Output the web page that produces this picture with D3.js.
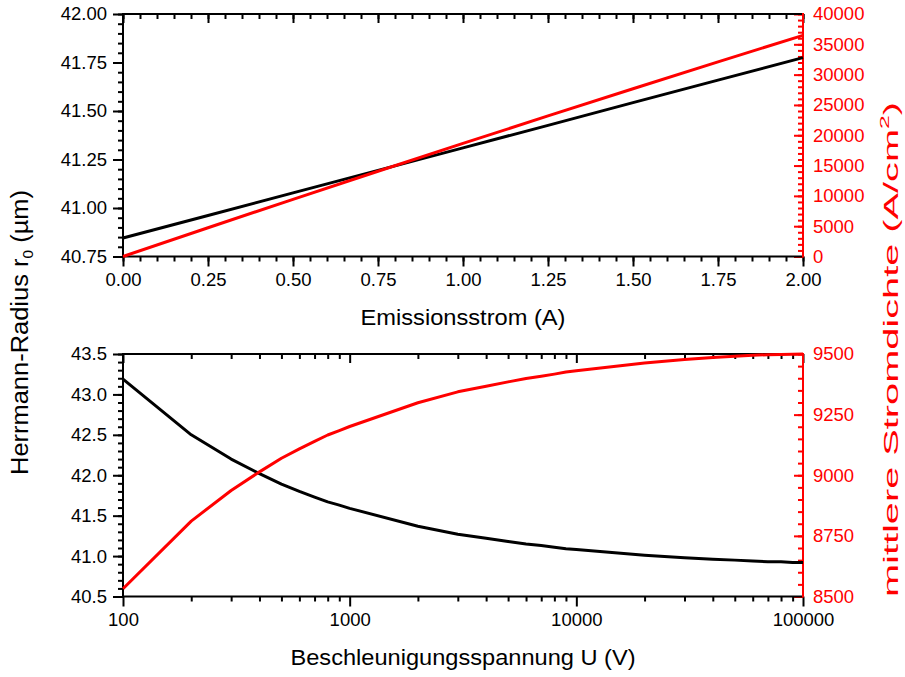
<!DOCTYPE html>
<html>
<head>
<meta charset="utf-8">
<script src="https://cdn.jsdelivr.net/npm/d3@7"></script>
<style>
  body { margin: 0; background: #fff; }
  svg { display: block; }
  text { font-family: "Liberation Sans", Arial, sans-serif; }
</style>
</head>
<body>
<svg class="herrmann-chart"></svg>
<script>
// upper panel: emission current sweep
var emissionCurrent = [0, 0.25, 0.5, 0.75, 1.0, 1.25, 1.5, 1.75, 2.0];
var radiusVsCurrent = [40.845, 40.961, 41.078, 41.194, 41.310, 41.426, 41.543, 41.659, 41.775];
var densityVsCurrent = [0, 4743, 9432, 14068, 18653, 23185, 27666, 32097, 36479];

// lower panel: acceleration voltage sweep
var voltage = [100, 200, 300, 400, 500, 600, 700, 800, 900,
  1000, 2000, 3000, 4000, 5000, 6000, 7000, 8000, 9000,
  10000, 20000, 30000, 40000, 50000, 60000, 70000, 80000, 90000, 100000];
var radiusVsVoltage = [43.19, 42.50, 42.20, 42.02, 41.89, 41.80, 41.73, 41.67, 41.63,
  41.59, 41.37, 41.27, 41.22, 41.18, 41.15, 41.13, 41.11, 41.09,
  41.08, 41.01, 40.98, 40.96, 40.95, 40.94, 40.93, 40.93, 40.92, 40.92];
var densityVsVoltage = [8532, 8811, 8937, 9014, 9070, 9109, 9140, 9166, 9184,
  9201, 9299, 9344, 9367, 9385, 9399, 9408, 9417, 9426,
  9431, 9463, 9477, 9486, 9491, 9495, 9497, 9498, 9499, 9500];

// tick labels
var currentTicks = [0, 0.25, 0.5, 0.75, 1.0, 1.25, 1.5, 1.75, 2.0];
var radiusTicksTop = [40.75, 41.0, 41.25, 41.5, 41.75, 42.0];
var densityTicksTop = [0, 5000, 10000, 15000, 20000, 25000, 30000, 35000, 40000];
var voltageTicks = [100, 1000, 10000, 100000];
var radiusTicksBottom = [40.5, 41.0, 41.5, 42.0, 42.5, 43.0, 43.5];
var densityTicksBottom = [8500, 8750, 9000, 9250, 9500];

var width = 905, height = 677;
var left = 123, right = 803;
var red = "#ff0000";
var tickFont = "18.5px";

var svg = d3.select(".herrmann-chart")
  .attr("width", width)
  .attr("height", height);

function styleAxis(g, color) {
  g.select(".domain").remove();
  g.selectAll(".tick line").attr("stroke", color).attr("stroke-width", 2);
  g.selectAll(".tick text")
    .attr("fill", color)
    .style("font-size", tickFont);
}

function logMinors(lo, hi) {
  var out = [];
  for (var d = lo; d < hi; d *= 10) {
    for (var k = 2; k <= 9; k++) out.push(d * k);
  }
  return out;
}

function drawPanel(opt) {
  var x = opt.x, yL = opt.yL, yR = opt.yR;
  var top = opt.top, bottom = opt.bottom;

  // bottom axis: outward ticks with labels
  svg.append("g")
    .attr("transform", "translate(0," + bottom + ")")
    .call(d3.axisBottom(x).tickValues(opt.xMinor).tickSize(5).tickFormat(""))
    .call(styleAxis, "#000");
  svg.append("g")
    .attr("transform", "translate(0," + bottom + ")")
    .call(d3.axisBottom(x).tickValues(opt.xTicks).tickSize(10).tickPadding(6).tickFormat(opt.xFormat))
    .call(styleAxis, "#000");

  // top axis: inward ticks
  svg.append("g")
    .attr("transform", "translate(0," + top + ")")
    .call(d3.axisTop(x).tickValues(opt.xMinor).tickSize(-5).tickFormat(""))
    .call(styleAxis, "#000");
  svg.append("g")
    .attr("transform", "translate(0," + top + ")")
    .call(d3.axisTop(x).tickValues(opt.xTicks).tickSize(-9).tickFormat(""))
    .call(styleAxis, "#000");

  // left axis: outward ticks
  svg.append("g")
    .attr("transform", "translate(" + left + ",0)")
    .call(d3.axisLeft(yL).tickValues(opt.yLMinor).tickSize(5).tickFormat(""))
    .call(styleAxis, "#000");
  svg.append("g")
    .attr("transform", "translate(" + left + ",0)")
    .call(d3.axisLeft(yL).tickValues(opt.yLTicks).tickSize(10).tickPadding(6).tickFormat(opt.yLFormat))
    .call(styleAxis, "#000");

  // right axis (red): inward ticks
  svg.append("g")
    .attr("transform", "translate(" + right + ",0)")
    .call(d3.axisRight(yR).tickValues(opt.yRMinor).tickSize(-5).tickFormat(""))
    .call(styleAxis, red);
  svg.append("g")
    .attr("transform", "translate(" + right + ",0)")
    .call(d3.axisRight(yR).tickValues(opt.yRTicks).tickSize(-9).tickPadding(10).tickFormat(d3.format("d")))
    .call(styleAxis, red);

  // frame
  var frame = svg.append("g").attr("stroke-width", 2).attr("fill", "none");
  frame.append("line").attr("x1", left - 1).attr("x2", right).attr("y1", top).attr("y2", top).attr("stroke", "#000");
  frame.append("line").attr("x1", left - 1).attr("x2", right).attr("y1", bottom).attr("y2", bottom).attr("stroke", "#000");
  frame.append("line").attr("x1", left).attr("x2", left).attr("y1", top).attr("y2", bottom).attr("stroke", "#000");
  frame.append("line").attr("x1", right).attr("x2", right).attr("y1", top - 1).attr("y2", bottom + 1).attr("stroke", red);

  var lineL = d3.line()
    .x(function(d, i) { return x(opt.xs[i]); })
    .y(function(d) { return yL(d); });
  var lineR = d3.line()
    .x(function(d, i) { return x(opt.xs[i]); })
    .y(function(d) { return yR(d); });

  svg.append("path")
    .datum(opt.left)
    .attr("d", lineL)
    .attr("fill", "none")
    .attr("stroke", "#000")
    .attr("stroke-width", 3)
    .attr("stroke-linejoin", "round");
  svg.append("path")
    .datum(opt.right)
    .attr("d", lineR)
    .attr("fill", "none")
    .attr("stroke", red)
    .attr("stroke-width", 3)
    .attr("stroke-linejoin", "round");
}

// upper panel
var topY0 = 14, topY1 = 256.5;
drawPanel({
  top: topY0, bottom: topY1,
  x: d3.scaleLinear().domain([0, 2]).range([left, right]),
  yL: d3.scaleLinear().domain([40.75, 42]).range([topY1, topY0]),
  yR: d3.scaleLinear().domain([0, 40000]).range([topY1, topY0]),
  xs: emissionCurrent,
  left: radiusVsCurrent,
  right: densityVsCurrent,
  xTicks: currentTicks,
  xMinor: d3.range(0, 2.0001, 0.05),
  xFormat: d3.format(".2f"),
  yLTicks: radiusTicksTop,
  yLMinor: d3.range(40.75, 42.0001, 0.05),
  yLFormat: d3.format(".2f"),
  yRTicks: densityTicksTop,
  yRMinor: d3.range(0, 40001, 1000)
});

// lower panel
var botY0 = 354, botY1 = 596.5;
drawPanel({
  top: botY0, bottom: botY1,
  x: d3.scaleLog().domain([100, 100000]).range([left, right]),
  yL: d3.scaleLinear().domain([40.5, 43.5]).range([botY1, botY0]),
  yR: d3.scaleLinear().domain([8500, 9500]).range([botY1, botY0]),
  xs: voltage,
  left: radiusVsVoltage,
  right: densityVsVoltage,
  xTicks: voltageTicks,
  xMinor: logMinors(100, 100000),
  xFormat: d3.format("d"),
  yLTicks: radiusTicksBottom,
  yLMinor: d3.range(40.5, 43.5001, 0.1),
  yLFormat: d3.format(".1f"),
  yRTicks: densityTicksBottom,
  yRMinor: d3.range(8500, 9501, 50)
});

// axis titles
svg.append("text")
  .attr("x", (left + right) / 2)
  .attr("y", 325)
  .attr("text-anchor", "middle")
  .attr("textLength", 205)
  .attr("lengthAdjust", "spacingAndGlyphs")
  .style("font-size", "22px")
  .text("Emissionsstrom (A)");

svg.append("text")
  .attr("x", (left + right) / 2)
  .attr("y", 665)
  .attr("text-anchor", "middle")
  .attr("textLength", 345)
  .attr("lengthAdjust", "spacingAndGlyphs")
  .style("font-size", "22px")
  .text("Beschleunigungsspannung U (V)");

var yTitle = svg.append("text")
  .attr("transform", "translate(28,332.5) rotate(-90)")
  .attr("text-anchor", "middle")
  .attr("textLength", 285)
  .attr("lengthAdjust", "spacingAndGlyphs")
  .style("font-size", "23px");
yTitle.append("tspan").text("Herrmann-Radius r");
yTitle.append("tspan").attr("dy", 5).style("font-size", "14px").text("0");
yTitle.append("tspan").attr("dy", -5).text(" (µm)");

var y2Title = svg.append("text")
  .attr("transform", "translate(898,349.5) rotate(-90)")
  .attr("text-anchor", "middle")
  .attr("textLength", 495)
  .attr("lengthAdjust", "spacingAndGlyphs")
  .attr("fill", red)
  .style("font-size", "21px");
y2Title.append("tspan").text("mittlere Stromdichte (A/cm");
y2Title.append("tspan").attr("dy", -9).style("font-size", "13px").text("2");
y2Title.append("tspan").attr("dy", 9).text(")");
</script>
</body>
</html>
